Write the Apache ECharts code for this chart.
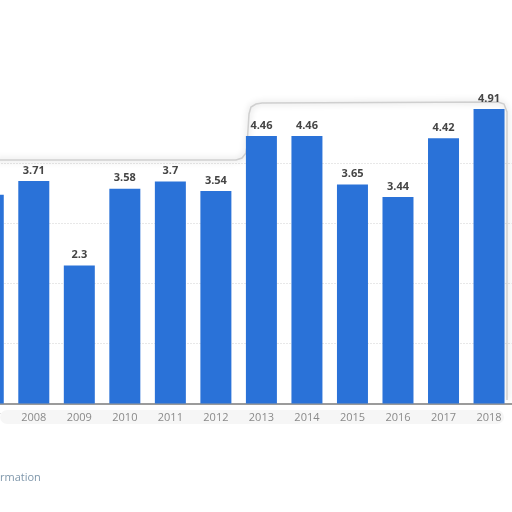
<!DOCTYPE html>
<html>
<head>
<meta charset="utf-8">
<script src="https://cdn.jsdelivr.net/npm/echarts@6/dist/echarts.min.js"></script>
<style>html,body{margin:0;padding:0;background:#fff;}#c{width:512px;height:512px;}</style>
</head>
<body>
<div id="c"></div>
<script>
var years = ['2007','2008','2009','2010','2011','2012','2013','2014','2015','2016','2017','2018'];
var values = [3.48, 3.71, 2.3, 3.58, 3.7, 3.54, 4.46, 4.46, 3.65, 3.44, 4.42, 4.91];

var chart = echarts.init(document.getElementById('c'));
chart.setOption({
  backgroundColor: '#ffffff',
  animation: false,
  grid: { left: -34.5, right: 0.2, top: 103.5, bottom: 108.5, outerBoundsMode: 'none', containLabel: false },
  xAxis: {
    type: 'category',
    data: years,
    axisLine: { lineStyle: { color: '#7a7a7a', width: 1.5 } },
    axisTick: { show: false },
    axisLabel: { interval: 0, color: '#8a8a8a', fontFamily: 'Open Sans', fontSize: 11, margin: 9 }
  },
  yAxis: {
    type: 'value',
    min: 0, max: 5, interval: 1,
    axisLine: { show: false },
    axisTick: { show: false },
    axisLabel: { show: false },
    splitLine: { show: true, showMinLine: false, showMaxLine: false, lineStyle: { color: '#d0d0d0', type: [1, 2] } }
  },
  graphic: [
    {
      type: 'rect', z: 0,
      shape: { x: 0, y: 410, width: 504, height: 14, r: 7 },
      style: { fill: 'rgba(0,0,0,0.035)', shadowBlur: 10, shadowColor: 'rgba(0,0,0,0.15)' }
    },
    {
      type: 'polyline',
      shape: { points: [[-5,160],[236,160],[242,158],[246,153],[247,146],[249,114],[251,107],[256,104],[262,103],[498,102],[504,104],[507,112],[507,400]] },
      style: { fill: null, stroke: '#cfcfcf', lineWidth: 1.5, shadowBlur: 6, shadowColor: 'rgba(0,0,0,0.25)' },
      z: 1
    },
    {
      type: 'text', left: 0, top: 472,
      style: { text: 'rmation', fill: '#7f97ab', fontFamily: 'Open Sans', fontSize: 11 }
    }
  ],
  series: [{
    type: 'bar',
    data: values,
    barWidth: 31,
    itemStyle: { color: '#2a72d8' },
    label: { show: true, position: 'top', distance: 5, color: '#454545', fontWeight: 'bold', fontSize: 11, fontFamily: 'Open Sans' },
    z: 3
  }]
});
</script>
</body>
</html>
